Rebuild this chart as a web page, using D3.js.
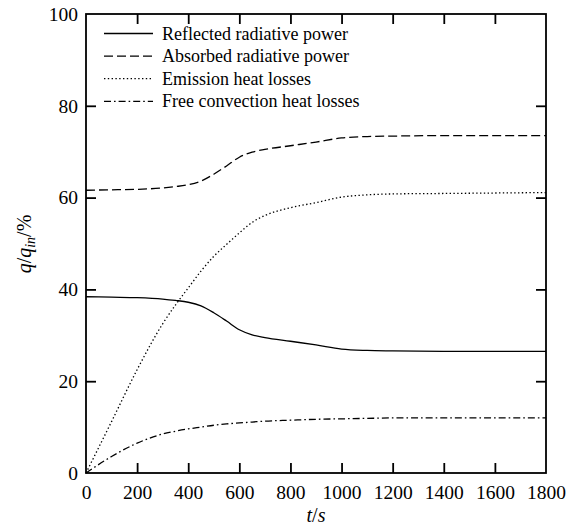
<!DOCTYPE html>
<html>
<head>
<meta charset="utf-8">
<script src="https://cdn.jsdelivr.net/npm/d3@7"></script>
<style>
html,body{margin:0;padding:0;background:#fff;}
svg{display:block;}
svg text{font-family:"Liberation Serif","DejaVu Serif",serif !important;fill:#000;}
</style>
</head>
<body>
<svg id="chart" width="576" height="528"></svg>
<script>
const time = [0,100,200,300,350,400,450,500,550,600,650,700,800,900,1000,1100,1200,1400,1600,1800];
const reflected = [38.4,38.3,38.2,37.9,37.6,37.2,36.4,34.9,33.1,31.2,30.1,29.5,28.7,27.9,27.0,26.7,26.6,26.5,26.5,26.5];
const absorbed = [61.6,61.7,61.8,62.1,62.4,62.8,63.6,65.1,66.9,68.8,69.9,70.5,71.3,72.1,73.0,73.3,73.4,73.5,73.5,73.5];
const emission = [0,11.2,22.5,32.5,36.6,40.3,44.0,47.2,49.8,52.3,54.6,56.1,57.8,58.9,60.1,60.6,60.8,60.9,61.0,61.1];
const convection = [0,3.6,6.5,8.5,9.1,9.6,10.0,10.4,10.7,10.9,11.1,11.3,11.5,11.7,11.8,11.9,12.0,12.0,12.0,12.0];
const seriesNames = ["Reflected radiative power","Absorbed radiative power","Emission heat losses","Free convection heat losses"];
const xTicks = [0,200,400,600,800,1000,1200,1400,1600,1800];
const yTicks = [0,20,40,60,80,100];

const series = [
  {name: seriesNames[0], values: reflected, dash: null},
  {name: seriesNames[1], values: absorbed, dash: "9,4"},
  {name: seriesNames[2], values: emission, dash: "1.4,2.4"},
  {name: seriesNames[3], values: convection, dash: "7,3,1.6,3"}
];

const svg = d3.select("#chart");
const L = 86, R = 546, T = 14, B = 473;
const x = d3.scaleLinear().domain([0,1800]).range([L,R]);
const y = d3.scaleLinear().domain([0,100]).range([B,T]);
const tickLen = 10;
const fmt = d3.format("d");

const axB = d3.axisBottom(x).tickValues(xTicks).tickFormat(fmt).tickSize(-tickLen).tickPadding(12).tickSizeOuter(0);
const axT = d3.axisTop(x).tickValues(xTicks).tickSize(-tickLen).tickFormat("").tickSizeOuter(0);
const axL = d3.axisLeft(y).tickValues(yTicks).tickFormat(fmt).tickSize(-tickLen).tickPadding(8).tickSizeOuter(0);
const axR = d3.axisRight(y).tickValues(yTicks).tickSize(-tickLen).tickFormat("").tickSizeOuter(0);

function style(g){
  g.attr("font-family", null).attr("font-size", null);
  g.selectAll(".domain").remove();
  g.selectAll(".tick line").attr("stroke","#000").attr("stroke-width",1.8);
  g.selectAll(".tick text").attr("font-size",19.5).attr("fill","#000");
}
svg.append("g").attr("transform",`translate(0,${B})`).call(axB).call(style);
svg.append("g").attr("transform",`translate(0,${T})`).call(axT).call(style);
svg.append("g").attr("transform",`translate(${L},0)`).call(axL).call(style);
svg.append("g").attr("transform",`translate(${R},0)`).call(axR).call(style);

svg.append("rect").attr("x",L).attr("y",T).attr("width",R-L).attr("height",B-T)
  .attr("fill","none").attr("stroke","#000").attr("stroke-width",1.8);

svg.selectAll(".tick").filter(d => d===0 || d===1800 || d===100).select("line").remove();

const line = d3.line().x((d,i)=>x(time[i])).y(d=>y(d)).curve(d3.curveMonotoneX);
series.forEach(s=>{
  svg.append("path").attr("d", line(s.values)).attr("fill","none")
    .attr("stroke","#000").attr("stroke-width",1.3)
    .attr("stroke-dasharray", s.dash);
});

const lg = svg.append("g");
series.forEach((s,i)=>{
  const yy = 33.5 + i*22.6;
  lg.append("line").attr("x1",104).attr("x2",153).attr("y1",yy).attr("y2",yy)
    .attr("stroke","#000").attr("stroke-width",1.3).attr("stroke-dasharray", s.dash);
  lg.append("text").attr("x",162).attr("y",yy+6).attr("font-size",18).text(s.name);
});

const xl = svg.append("text").attr("x",316).attr("y",522).attr("text-anchor","middle").attr("font-size",20);
xl.append("tspan").attr("font-style","italic").text("t");
xl.append("tspan").text("/");
xl.append("tspan").attr("font-style","italic").text("s");

const yl = svg.append("text").attr("transform","translate(31,244) rotate(-90)").attr("text-anchor","middle").attr("font-size",20);
yl.append("tspan").attr("font-style","italic").text("q");
yl.append("tspan").text("/");
yl.append("tspan").attr("font-style","italic").text("q");
yl.append("tspan").attr("font-style","italic").attr("font-size",14).attr("dy",4).text("in");
yl.append("tspan").attr("dy",-4).text("/%");
</script>
</body>
</html>
